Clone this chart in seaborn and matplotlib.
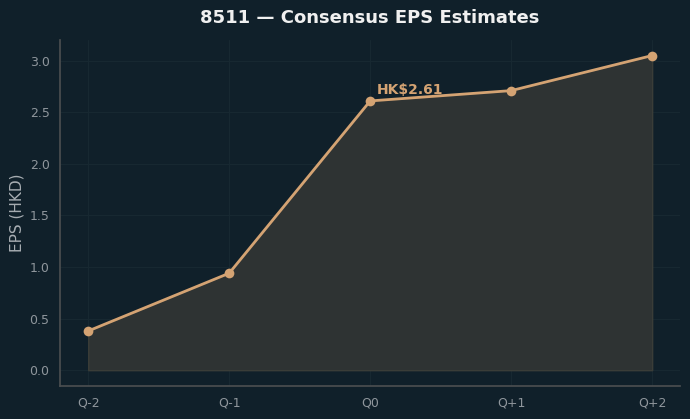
import matplotlib
matplotlib.use("Agg")
import matplotlib.pyplot as plt
import numpy as np
import pandas as pd
import seaborn as sns

quarters = ["Q-2", "Q-1", "Q0", "Q+1", "Q+2"]
eps = [0.38, 0.94, 2.61, 2.71, 3.05]
highlight_label = "HK$2.61"
highlight_idx = 2

BG = "#10202a"
LINE = "#d4a373"
FILL = "#2e3333"
TEXT = "#8f969c"

sns.set_theme(style="dark")
plt.rcParams["font.family"] = ["DejaVu Sans"]

df = pd.DataFrame({"quarter": quarters, "eps": eps, "pos": np.arange(len(quarters))})

fig, ax = plt.subplots(figsize=(6.9, 4.19), dpi=100)
fig.patch.set_facecolor(BG)
ax.set_facecolor(BG)

ax.fill_between(df["pos"], df["eps"], 0, color=FILL, alpha=1.0, edgecolor="#3a3d38", linewidth=1, zorder=1)
sns.lineplot(data=df, x="pos", y="eps", ax=ax, color=LINE, linewidth=2, marker="o",
             markersize=7, markeredgewidth=0, zorder=3)

ax.annotate(highlight_label, (df["pos"][highlight_idx], df["eps"][highlight_idx]),
            xytext=(5, 5), textcoords="offset points", color=LINE,
            fontsize=10, fontweight="bold")

ax.set_xticks(df["pos"])
ax.set_xticklabels(quarters)
ax.set_xlabel("")
ax.set_ylabel("EPS (HKD)", color="#a7adb2", fontsize=11)
ax.set_title("8511 — Consensus EPS Estimates", color="#f0f0f0", fontsize=13,
             fontweight="bold", pad=12)

ax.tick_params(colors=TEXT, labelsize=9, length=4, color="#555a5c")
ax.grid(True, color="#172831", linewidth=0.8)
for side in ["top", "right"]:
    ax.spines[side].set_visible(False)
for side in ["left", "bottom"]:
    ax.spines[side].set_visible(True)
    ax.spines[side].set_color("#4a4e50")

fig.subplots_adjust(left=0.087, right=0.986, top=0.905, bottom=0.079)
fig.savefig("out.png", dpi=100, facecolor=BG)
